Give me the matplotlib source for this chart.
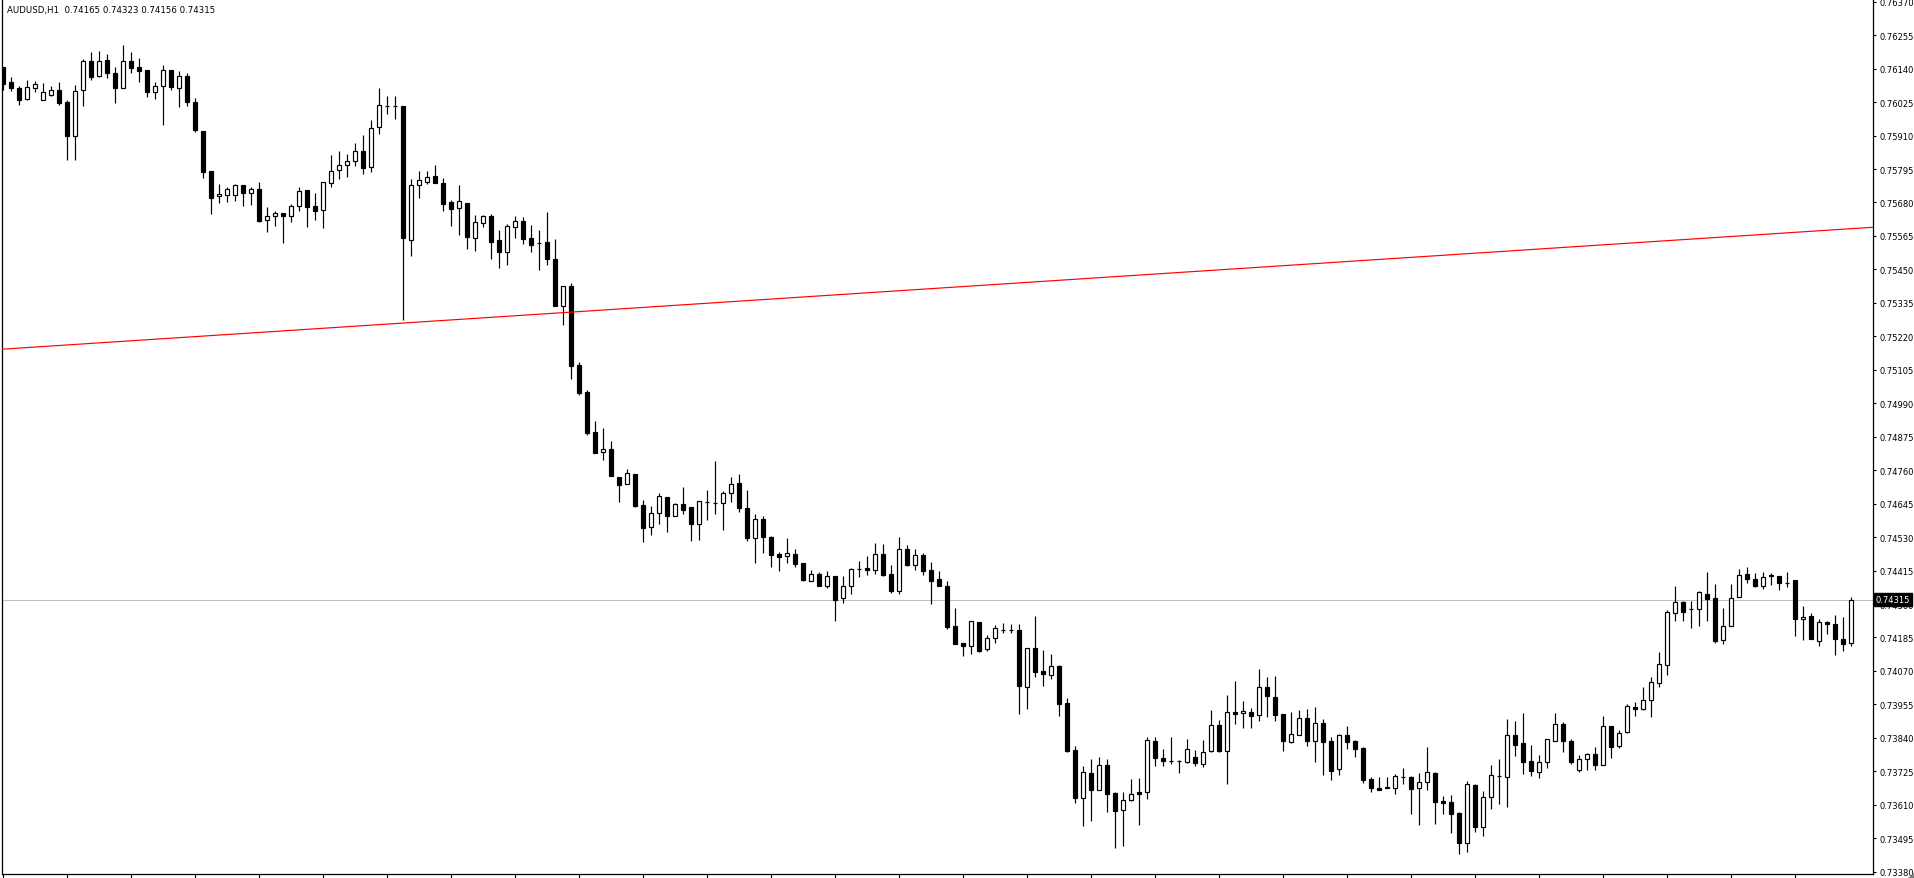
import matplotlib
matplotlib.use("Agg")
import matplotlib.pyplot as plt
from matplotlib.patches import Polygon
import numpy as np

# ---------------- data (prices in 1e-5 points) ----------------
symbol = "AUDUSD,H1"

open_pts = [
    76147, 76094, 76072, 76037, 76074, 76031, 76050, 76065, 76024, 75909,
    76065, 76165, 76116, 76168, 76125, 76074, 76165, 76144, 76134, 76061,
    76081, 76134, 76074, 76113, 76027, 75924, 75787, 75701, 75707, 75704,
    75739, 75711, 75725, 75619, 75632, 75643, 75632, 75669, 75722, 75667,
    75655, 75746, 75790, 75808, 75821, 75856, 75801, 75938, 76012, 76012,
    76012, 75550, 75739, 75749, 75770, 75746, 75680, 75660, 75677, 75559,
    75608, 75632, 75550, 75511, 75595, 75615, 75557, 75542, 75543, 75485,
    75325, 75392, 75120, 75029, 74890, 74821, 74832, 74735, 74711, 74746,
    74639, 74566, 74612, 74667, 74601, 74643, 74632, 74576, 74650, 74646,
    74646, 74680, 74715, 74629, 74528, 74591, 74530, 74472, 74466, 74472,
    74441, 74378, 74402, 74363, 74395, 74319, 74361, 74422, 74423, 74416,
    74471, 74402, 74346, 74488, 74435, 74467, 74416, 74385, 74361, 74223,
    74167, 74155, 74237, 74144, 74182, 74210, 74210, 74210, 74016, 74148,
    74069, 74057, 74086, 73959, 73797, 73634, 73718, 73662, 73746, 73649,
    73591, 73625, 73653, 73653, 73828, 73770, 73759, 73759, 73756, 73773,
    73749, 73794, 73883, 73794, 73928, 73925, 73928, 73917, 74014, 73979,
    73921, 73827, 73851, 73907, 73830, 73890, 73828, 73732, 73849, 73828,
    73804, 73697, 73667, 73670, 73667, 73704, 73704, 73669, 73690, 73718,
    73622, 73618, 73581, 73480, 73677, 73535, 73638, 73708, 73704, 73849,
    73821, 73759, 73722, 73756, 73828, 73887, 73828, 73728, 73766, 73783,
    73748, 73880, 73813, 73859, 73945, 73938, 73969, 74027, 74089, 74268,
    74306, 74282, 74282, 74333, 74320, 74175, 74223, 74323, 74402, 74385,
    74361, 74399, 74395, 74371, 74381, 74247, 74258, 74172, 74237, 74230,
    74179, 74165,
]
high_pts = [
    76147, 76110, 76079, 76101, 76096, 76089, 76082, 76094, 76032, 76084,
    76173, 76196, 76199, 76190, 76145, 76221, 76196, 76176, 76137, 76094,
    76151, 76134, 76131, 76124, 76038, 75924, 75787, 75743, 75732, 75743,
    75739, 75732, 75749, 75663, 75650, 75643, 75675, 75732, 75722, 75711,
    75749, 75842, 75856, 75846, 75883, 75911, 75962, 76072, 76045, 76045,
    76012, 75761, 75787, 75787, 75808, 75763, 75687, 75739, 75677, 75636,
    75636, 75639, 75584, 75605, 75632, 75629, 75601, 75584, 75646, 75553,
    75392, 75402, 75131, 75036, 74928, 74904, 74859, 74735, 74763, 74746,
    74656, 74636, 74680, 74667, 74646, 74701, 74632, 74653, 74691, 74790,
    74687, 74735, 74746, 74691, 74608, 74601, 74535, 74480, 74527, 74489,
    74441, 74417, 74409, 74412, 74395, 74395, 74425, 74449, 74464, 74509,
    74505, 74433, 74529, 74502, 74488, 74474, 74443, 74412, 74378, 74285,
    74167, 74241, 74237, 74192, 74227, 74234, 74230, 74230, 74148, 74258,
    74141, 74127, 74089, 73976, 73811, 73742, 73766, 73773, 73766, 73653,
    73653, 73698, 73701, 73842, 73842, 73801, 73842, 73763, 73835, 73797,
    73832, 73935, 73900, 73986, 74034, 73965, 73941, 74076, 74048, 74051,
    73921, 73928, 73935, 73938, 73945, 73904, 73842, 73852, 73880, 73831,
    73807, 73704, 73704, 73704, 73715, 73735, 73708, 73718, 73807, 73722,
    73639, 73642, 73584, 73691, 73680, 73656, 73746, 73766, 73904, 73897,
    73924, 73814, 73780, 73835, 73924, 73893, 73835, 73780, 73788, 73807,
    73914, 73880, 73866, 73955, 73962, 74014, 74048, 74134, 74278, 74361,
    74309, 74309, 74344, 74409, 74368, 74285, 74368, 74419, 74426, 74405,
    74409, 74405, 74395, 74409, 74381, 74292, 74268, 74247, 74243, 74261,
    74254, 74323,
]
low_pts = [
    76068, 76064, 76015, 76033, 76061, 76031, 76047, 76015, 75827, 75827,
    76013, 76102, 76112, 76109, 76023, 76074, 76126, 76095, 76044, 76037,
    75947, 76065, 76009, 76013, 75923, 75765, 75641, 75679, 75683, 75686,
    75669, 75672, 75613, 75580, 75600, 75542, 75614, 75651, 75597, 75621,
    75593, 75732, 75761, 75769, 75804, 75779, 75786, 75917, 75985, 75968,
    75277, 75497, 75697, 75742, 75746, 75652, 75600, 75569, 75521, 75514,
    75597, 75487, 75456, 75466, 75559, 75538, 75511, 75449, 75466, 75325,
    75260, 75074, 75019, 74880, 74818, 74796, 74739, 74652, 74711, 74635,
    74514, 74538, 74576, 74549, 74601, 74611, 74518, 74521, 74590, 74611,
    74555, 74650, 74615, 74518, 74442, 74477, 74428, 74415, 74442, 74428,
    74380, 74378, 74363, 74356, 74243, 74302, 74336, 74394, 74401, 74404,
    74395, 74339, 74336, 74432, 74418, 74401, 74301, 74363, 74215, 74164,
    74123, 74127, 74135, 74137, 74167, 74199, 74199, 73923, 73940, 74050,
    74019, 74043, 73916, 73793, 73617, 73538, 73555, 73662, 73586, 73463,
    73470, 73622, 73542, 73631, 73742, 73742, 73749, 73718, 73753, 73742,
    73739, 73790, 73790, 73680, 73887, 73875, 73875, 73899, 73913, 73899,
    73796, 73823, 73851, 73813, 73758, 73713, 73696, 73713, 73803, 73775,
    73686, 73655, 73662, 73667, 73648, 73683, 73579, 73542, 73662, 73545,
    73579, 73514, 73442, 73449, 73518, 73504, 73597, 73614, 73604, 73779,
    73717, 73708, 73703, 73738, 73828, 73793, 73751, 73722, 73728, 73728,
    73748, 73770, 73804, 73855, 73914, 73935, 73911, 74014, 74055, 74240,
    74240, 74216, 74223, 74240, 74165, 74161, 74223, 74323, 74371, 74357,
    74350, 74364, 74347, 74357, 74189, 74175, 74179, 74155, 74196, 74124,
    74137, 74156,
]
close_pts = [
    76087, 76074, 76033, 76076, 76086, 76058, 76065, 76023, 75909, 76062,
    76165, 76112, 76165, 76126, 76074, 76165, 76143, 76133, 76061, 76082,
    76136, 76078, 76113, 76026, 75930, 75786, 75696, 75708, 75725, 75739,
    75714, 75725, 75616, 75635, 75643, 75632, 75669, 75718, 75665, 75652,
    75749, 75787, 75808, 75821, 75856, 75800, 75935, 76014, 76012, 76012,
    75559, 75739, 75756, 75766, 75746, 75676, 75659, 75684, 75562, 75612,
    75632, 75545, 75511, 75598, 75615, 75556, 75535, 75542, 75487, 75325,
    75392, 75117, 75026, 74889, 74818, 74832, 74739, 74708, 74749, 74638,
    74562, 74612, 74670, 74604, 74643, 74624, 74576, 74653, 74650, 74646,
    74680, 74711, 74629, 74528, 74591, 74532, 74470, 74463, 74474, 74439,
    74384, 74402, 74363, 74395, 74315, 74361, 74420, 74422, 74416, 74471,
    74401, 74346, 74488, 74435, 74467, 74415, 74380, 74363, 74222, 74164,
    74155, 74241, 74137, 74182, 74216, 74210, 74210, 74019, 74148, 74068,
    74061, 74086, 73958, 73795, 73634, 73721, 73662, 73746, 73648, 73590,
    73625, 73646, 73648, 73832, 73770, 73759, 73759, 73759, 73801, 73752,
    73790, 73883, 73794, 73928, 73923, 73931, 73914, 74014, 73983, 73920,
    73830, 73852, 73907, 73830, 73890, 73827, 73727, 73849, 73827, 73803,
    73696, 73669, 73662, 73667, 73708, 73704, 73665, 73689, 73722, 73621,
    73617, 73579, 73480, 73680, 73535, 73636, 73711, 73708, 73849, 73817,
    73758, 73725, 73756, 73835, 73887, 73828, 73758, 73766, 73783, 73748,
    73880, 73810, 73856, 73948, 73938, 73969, 74031, 74093, 74271, 74306,
    74271, 74282, 74340, 74316, 74172, 74223, 74320, 74399, 74385, 74361,
    74392, 74395, 74371, 74371, 74247, 74254, 74179, 74237, 74230, 74179,
    74161, 74315,
]

opens = np.array(open_pts) / 1e5
highs = np.array(high_pts) / 1e5
lows = np.array(low_pts) / 1e5
closes = np.array(close_pts) / 1e5

# price-axis ticks
price_ticks = [0.73380 + 0.00115 * k for k in range(27)]
price_min, price_max = 0.733721, 0.763793

# time-axis ticks (every 8 bars)
time_ticks = list(range(0, 225, 8))

# trend line anchors (bar index, price)
trend_x = [0, 231]
trend_y = [0.75176, 0.75590]

# ---------------- figure ----------------
W, H = 1915, 879
fig = plt.figure(figsize=(W / 100, H / 100), dpi=100)
fig.patch.set_facecolor("white")
ax = fig.add_axes([2 / W, 4 / H, 1871 / W, 875 / H])
ax.set_facecolor("white")

n = len(opens)
x = np.arange(n)

# bid line
ax.axhline(closes[-1], color="#c0c0c0", lw=0.8, zorder=1)

# wicks
ax.vlines(x, lows, highs, color="black", lw=0.85, zorder=2)

# bodies
up = closes >= opens
ax.bar(x[up], closes[up] - opens[up], bottom=opens[up], width=0.52,
       facecolor="white", edgecolor="black", lw=0.85, zorder=3)
ax.bar(x[~up], opens[~up] - closes[~up], bottom=closes[~up], width=0.52,
       facecolor="black", edgecolor="black", lw=0.85, zorder=3)

# trend line
ax.axline((trend_x[0], trend_y[0]), (trend_x[1], trend_y[1]),
          color="red", lw=0.85, zorder=4)

ax.set_xlim(-0.16, 233.71)
ax.set_ylim(price_min, price_max)

# axes styling
for s in ("left", "bottom", "right"):
    ax.spines[s].set_color("black")
    ax.spines[s].set_linewidth(0.9)
ax.spines["top"].set_visible(False)

ax.yaxis.tick_right()
ax.set_yticks(price_ticks)
ax.set_yticklabels([f"{v:.5f}" for v in price_ticks])
ax.tick_params(axis="y", direction="out", length=2, width=0.8, pad=3,
               labelsize=6, colors="black")

ax.set_xticks(time_ticks)
ax.set_xticklabels([])
ax.tick_params(axis="x", direction="out", length=3, width=0.8)

# current price tag
ax.text(1.0015, closes[-1], f"{closes[-1]:.5f}",
        transform=ax.get_yaxis_transform(), ha="left", va="center",
        fontsize=6, color="white", zorder=6, clip_on=False,
        bbox=dict(boxstyle="square,pad=0.25", facecolor="black",
                  edgecolor="black"))

# title
fig.text(7 / W, 1 - 11 / H,
         f"{symbol}  {opens[-1]:.5f} {highs[-1]:.5f} {lows[-1]:.5f} {closes[-1]:.5f}",
         ha="left", va="center", fontsize=6.2, color="black")

# small resize grip in the bottom-right corner
grip = Polygon([[1915 / W, 0], [1915 / W, 6 / H], [1908 / W, 0]],
               closed=True, transform=fig.transFigure,
               facecolor="#808080", edgecolor="none")
fig.patches.append(grip)

fig.savefig("out.png", dpi=100, facecolor="white")
